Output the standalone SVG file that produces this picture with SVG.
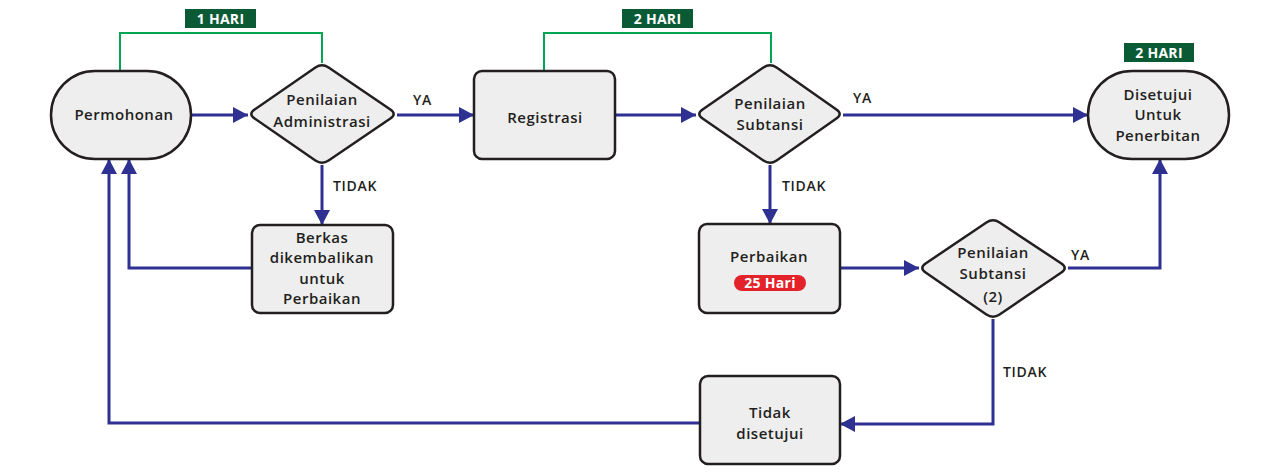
<svg xmlns="http://www.w3.org/2000/svg" width="1280" height="473" viewBox="0 0 1280 473">
<style>
  .node { fill: #eeeeee; stroke: #231f20; stroke-width: 2.5; }
  .t { font-family: "Open Sans", "Liberation Sans", sans-serif; font-weight: 600; font-size: 15px; letter-spacing: 0.5px; fill: #231f20; text-anchor: middle; }
  .lbl { font-family: "Open Sans", "Liberation Sans", sans-serif; font-weight: 600; font-size: 14px; letter-spacing: 0.7px; fill: #231f20; }
  .tag { fill: #0b5a36; }
  .tagt { font-family: "Open Sans", "Liberation Sans", sans-serif; font-weight: 700; font-size: 14px; letter-spacing: 0.3px; fill: #ffffff; text-anchor: middle; }
  .flow { fill: none; stroke: #2e3192; stroke-width: 3; }
  .green { fill: none; stroke: #00a651; stroke-width: 2; }
</style>
<defs>
  <marker id="arr" markerUnits="userSpaceOnUse" markerWidth="16" markerHeight="16" refX="15" refY="8" orient="auto">
    <path d="M0,0 L15,8 L0,16 Z" fill="#2e3192"/>
  </marker>
</defs>

<g id="connectors">
  <path class="green" d="M120,70 V33 H322 V63"/>
  <path class="green" d="M544,71 V33 H771 V63"/>
  <path class="flow" d="M191,115 H248" marker-end="url(#arr)"/>
  <path class="flow" d="M397,115 H474" marker-end="url(#arr)"/>
  <path class="flow" d="M615,115 H696" marker-end="url(#arr)"/>
  <path class="flow" d="M843,115 H1088" marker-end="url(#arr)"/>
  <path class="flow" d="M322,165 V225" marker-end="url(#arr)"/>
  <path class="flow" d="M770,165 V224" marker-end="url(#arr)"/>
  <path class="flow" d="M252,268 H129 V159" marker-end="url(#arr)"/>
  <path class="flow" d="M840,268 H919" marker-end="url(#arr)"/>
  <path class="flow" d="M1068,268 H1160 V159" marker-end="url(#arr)"/>
  <path class="flow" d="M993,319 V424 H840" marker-end="url(#arr)"/>
  <path class="flow" d="M700,423 H109 V159" marker-end="url(#arr)"/>
  <text class="lbl" x="413" y="105">YA</text>
  <text class="lbl" x="853" y="103">YA</text>
  <text class="lbl" x="1071" y="260">YA</text>
  <text class="lbl" x="333" y="191">TIDAK</text>
  <text class="lbl" x="782" y="191">TIDAK</text>
  <text class="lbl" x="1003" y="377">TIDAK</text>
</g>

<g id="tag1">
  <rect class="tag" x="185" y="9" width="71" height="19"/>
  <text class="tagt" x="220.5" y="24">1 HARI</text>
</g>
<g id="tag2">
  <rect class="tag" x="622" y="9" width="71" height="19"/>
  <text class="tagt" x="657.5" y="24">2 HARI</text>
</g>
<g id="tag3">
  <rect class="tag" x="1124" y="43" width="70" height="19"/>
  <text class="tagt" x="1159" y="58">2 HARI</text>
</g>

<g id="permohonan">
  <rect class="node" x="51" y="71" width="140" height="88" rx="44"/>
  <text class="t" x="124" y="120">Permohonan</text>
</g>
<g id="penilaian-administrasi">
  <path class="node" d="M254.6,109.5 L315.4,67.5 Q322,63 328.6,67.5 L390.4,109.5 Q397,114 390.4,118.5 L328.6,160.5 Q322,165 315.4,160.5 L254.6,118.5 Q248,114 254.6,109.5 Z"/>
  <text class="t" x="322" y="105">Penilaian</text>
  <text class="t" x="322" y="127">Administrasi</text>
</g>
<g id="registrasi">
  <rect class="node" x="474" y="71" width="141" height="88" rx="8"/>
  <text class="t" x="545" y="123">Registrasi</text>
</g>
<g id="penilaian-subtansi">
  <path class="node" d="M702.6,109.5 L763.4,67.5 Q770,63 776.6,67.5 L836.4,109.5 Q843,114 836.4,118.5 L776.6,160.5 Q770,165 763.4,160.5 L702.6,118.5 Q696,114 702.6,109.5 Z"/>
  <text class="t" x="770" y="109">Penilaian</text>
  <text class="t" x="770" y="130">Subtansi</text>
</g>
<g id="disetujui">
  <rect class="node" x="1088" y="71" width="141" height="88" rx="44"/>
  <text class="t" x="1158" y="100">Disetujui</text>
  <text class="t" x="1158" y="120">Untuk</text>
  <text class="t" x="1158" y="141">Penerbitan</text>
</g>
<g id="berkas">
  <rect class="node" x="252" y="225" width="141" height="88" rx="8"/>
  <text class="t" x="322" y="243">Berkas</text>
  <text class="t" x="322" y="263">dikembalikan</text>
  <text class="t" x="322" y="284">untuk</text>
  <text class="t" x="322" y="304">Perbaikan</text>
</g>
<g id="perbaikan">
  <rect class="node" x="699" y="224" width="141" height="89" rx="8"/>
  <text class="t" x="769" y="262">Perbaikan</text>
  <rect x="734" y="275" width="72" height="16" rx="8" fill="#e3222a"/>
  <text class="tagt" x="770" y="288">25 Hari</text>
</g>
<g id="penilaian-subtansi-2">
  <path class="node" d="M925.6,263.5 L986.4,222.5 Q993,218 999.6,222.5 L1061.4,263.5 Q1068,268 1061.4,272.5 L999.6,314.5 Q993,319 986.4,314.5 L925.6,272.5 Q919,268 925.6,263.5 Z"/>
  <text class="t" x="993" y="258">Penilaian</text>
  <text class="t" x="993" y="279">Subtansi</text>
  <text class="t" x="993" y="302">(2)</text>
</g>
<g id="tidak-disetujui">
  <rect class="node" x="700" y="376" width="140" height="88" rx="8"/>
  <text class="t" x="770" y="418">Tidak</text>
  <text class="t" x="770" y="439">disetujui</text>
</g>
</svg>
